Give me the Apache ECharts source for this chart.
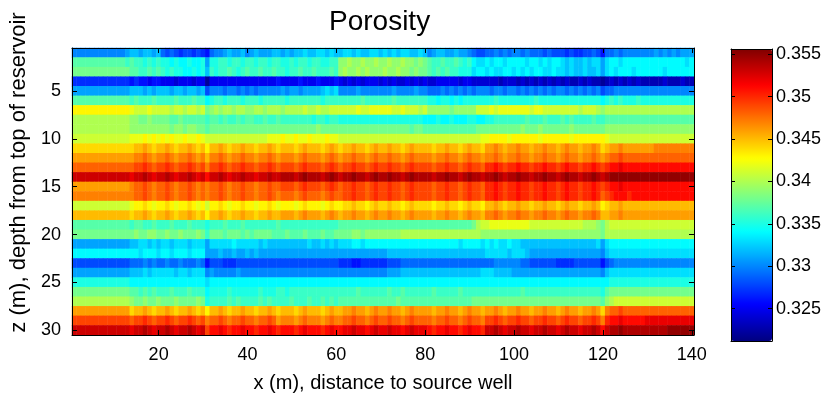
<!DOCTYPE html>
<html><head><meta charset="utf-8">
<script src="https://cdn.jsdelivr.net/npm/echarts@6/dist/echarts.min.js"></script>
<style>html,body{margin:0;padding:0;background:#fff}#c{width:827px;height:398px}</style>
</head><body><div id="c"></div>
<script>
// x categories (m) and z categories (m)
const xCategories = Array.from({length: 140}, (_, i) => i + 1);
const zCategories = Array.from({length: 30}, (_, i) => i + 1);
const xTickValues = [20, 40, 60, 80, 100, 120, 140];
const zTickValues = [5, 10, 15, 20, 25, 30];
const colorbarTicks = [0.325, 0.33, 0.335, 0.34, 0.345, 0.35, 0.355];
const colorRange = [0.3212, 0.3556];
const jetColors = ['#000080', '#0000ff', '#0080ff', '#00ffff', '#80ff80', '#ffff00', '#ff8000', '#ff0000', '#800000'];

// porosity level codes: each character is one cell, looked up in levelValues
const levelCodes = '0123456789abcdefghijklmnopqrstuvwxyz';
const levelValues = [0.321,0.322,0.323,0.324,0.325,0.326,0.327,0.328,0.329,0.330,
  0.331,0.332,0.333,0.334,0.335,0.336,0.337,0.338,0.339,0.340,
  0.341,0.342,0.343,0.344,0.345,0.346,0.347,0.348,0.349,0.350,
  0.351,0.352,0.353,0.354,0.355,0.356];

// one string per depth row z=1..30, 140 cells (x=1..140), grouped by 10
const porosityRows = [
"9999999999 99abbabbab 8787677676 5899abaab9 abaaabbaba bbcbbccbcb bccbcbbccb cbcbccbbcb 9abbaabaa9 8778898989 9898887877 7676677875 8898999999 9a9a9a9aaa",
"gggggggggg ggfgffefef eededdedde aeeffeffef feffeffeef effeffeeff iijiijiiji ijiijiihih gffgffgfef dccdcddcdd ddcddcdcdd cbcbbcbcca cddcdddddd ddddddddcd",
"hhhhhhhhhh hhhggffgfg fefeeddede bfeffgfefg ffgffgffef fgffgfffgf ijiijijiii jiijiihihh gfgfgffeee cddcdccddc dcdcddccdc cbcbbcbbca cdcdddcddd dddcdddddd",
"6666666666 6665655455 4443444344 1444444444 4444445444 4544454445 4343434443 4343343434 3344444344 3333332333 2323232323 2322323221 2323232322 2223222322",
"aaaaaaaaaa aaabbbabab bbabbabbab 7999899898 9899999a9a a9aaaabcbc 9999a99999 99a9999a99 8889898989 8999899899 8989898989 9898989897 8899999999 9999999999",
"gggggggggg gggfgfffgf fffgfffgff deffefffef ffefffffef ffffffefff fffffgffff ffgfffffff eedeededee eeeeefeeee eeeefeeeee eeeeeeeeed efefeeefee eeeeeeeeee",
"mmmmmmmmmm mmmlkkklkk kkjkkjkkjk hijijjijji ijjijjjijj jjkjjkjjkk kkkklkklll llkklkkkjk iiiiihiiii ikkklkllll lllkllkkkk kkkkjkkkji jjjjjjjjjj jjjjjjjjjj",
"jjjjjjjjjj jjjiihhihh hhgghggggg fggfgffgfg gffgffgfff ffffeffeff eeeeeeeeee eeeeeeeeed ddeddeddde eddeefffff ffgfffgfff gfgffffgff gggggggggg gggggggggg",
"jjjjjjjjjj jjjiiiiiii iihiihiihh ghhhhhhhhh hhhhhhhhhh hhhhhihhhh hhhhhhhhhh hhhhhhghhg gggggggggg ghhhhhhhhh hihhhihhhh hhihhhhhhh iiiiiiiiii iiiiiiiiii",
"kkkkkkkkkk kkklllmlml mlmllmllml kkkkkkkkkk kkkklllmll mllmlllmll kkkkkkkkkk kkkkkkkkkk kkkkkkkkkk kkllmmmmlm mmmmmlmmmm mmlmmmmmmm lkkkkkkkkk kkkkkkkkkk",
"nnnnnnnnnn nnnnoopono oponoopono mooponoopo onooponooo nopooonopo noopoonopo opoonopooo onoopoonop oonppqpopp qppoppqppo pqppoppqpn oppqpppppp pqqqqqqqqq",
"pppppppppp ppppqqrqpq qrqpqqrqpq oqqrqpqqrq qpqqrqpqqq pqrqqqpqrq pqqrqqpqrq qrqqpqrqqq qpqqrqqpqr qqpqqrqpqq rqqpqqrqqp qrqqpqqrqp qrrsrrrrrr rrrrrrrrrr",
"rrrrrrrrrr rrrrsstsrs stsrsstsrs qsstsrssts srsstsrsss rstsssrsts rsstssrsts stssrstsss srsstssrst ssrttutstt uttsttutts tuttsttuts tuuvuuuuuu uuuuuuuuuu",
"wwwwwwwwww wwwvwwxwvw wxwvwwxwvw uwwxwvwwxw wvwwxwwxxx wxyxxxwxyx wxxyxxwxyx xyxxwxyxxx xwxxyxxwxy xxwxxyxwxx yxxwxxyxxw xyxxwxxyxw xyyyyyyyyy yyyyyyyyyy",
"pppppppppp pppqrrsrqr rsrqrrsrqr qrrsrqrrsr rqrrsrrsss rstsssrsts rsstssrsts stssrstsss srsstssrst ssrttutstt uttsttutts tuttsttuts tuuvuuuuuu uuuuuuuuuu",
"qqqqqqqqqq qqqqrrsrqr rsrqrrsrqr qrrsrqrrsr rqrrsrqrrr qrsrrrqrsr rsstssrsts stssrstsss srsstssrst ssrttutstt uttsttutts tuttsttutr stuuutuuuu uuuuuuuuuu",
"kkkkkkkkkk kkklmmnmlm mnmlmmnmlm kmmnmlmmnm mlmmnmlmmm lmnmmmlmnm mnnonnmnon nonnmnonnn nmnnonnmno nnmooponoo poonoopoon opoonoopom noopoooooo oooooooooo",
"oooooooooo ooonoopono oponoopono mooponoopo onoopooppp opqpppopqp oppqppopqp pqppopqppp poppqppopq ppoqqrqpqq rqqpqqrqqp qrqqpqqrqo oppqpppppp pppppppppp",
"gggggggggg gggfggffgf ffgfffgfff efffgfffgf ffffffgfff ffffffffff gggggggggg gggggggggg gggggggggg hjkkllllll lllkkkkkkk kkkkkjjjih jkkkkkkkkk kkkkkkkkkk",
"hhhhhhhhhh hhhhihhiih hihhihhhih fhhhghhhgh ghhhhggghg gghggghggh hhhiihiiii iiiijjjjjj jjjjjjjjjj jjiiiiiiii iiiiiiiiii iiiiiiiiih jjjjjjjjjj jjjjjjjjjj",
"aaaaaaaaaa aaabbccbcb ccbcccbccc acccccdccc ccbcbbbbbb bbbcbbcbcb cccddcdddd dddddddddd dddddddcdd ddcdcdccdc cbbbbbbbbb bbbbbbbbca cddddddddd dddddddddd",
"dddddddddd dddddcdddc ddcdddcddd aaabaabaab abaaaaaaaa aaaaaaaaaa aaaaaaaaaa abbbbbbbbb bbbbbbbbbb bbbcccccbc ccbaaaaaaa aaaaaaaaa9 bccccccccc cccccccccc",
"7777777777 7778889898 8988988898 5777666777 7777777777 7777777777 6665566666 6777888888 8888888888 8888899999 9887777776 6667777775 7899999999 9999999999",
"aaaaaaaaaa aaabbbcbcc cccbccbccc 9a99999a99 9999999999 9999999999 9999999999 9aaabbbbbb bbbbbbbbbb bbcccbbbba aaaaaaaaaa aaaaaaaaa9 bccccccccc cccccccccc",
"eeeeeeeeee eeeddddddd dddddddddd cddddddddd dddddddddd dddddddddd dddddddddd dddddddddd dddddddddd dddddddddd dddddddddd dddddddddd deeeeeeeee eeeeeeeeee",
"hhhhhhhhhh hhhggfgfgf ffgfffgfff deeeefeeee eefeeeffef ffffffffff ffffgfffff fgffgfffff fgfffffgff ffffffffff fgffffffff fffffffffe ghhhhhhhhh hhhhhhhhhh",
"jjjjjjjjjj jjjihhihhi hhhihhhhih effffgfgff ffgfgffffg fffgffgfgf gggggggggg ggghgggggg gggggggggg hhhhhhhhhh hhhhhhhhhh hhhhhhhhhg ijkkkkkkkk kkkkkkkkkk",
"pppppppppp pppnoopono oponoopono mooponoopo onooponooo nopooonopo oppqppopqp pqppopqppp poppqppopq ppoppqpopp qppoppqppo pqppoppqpn qrrsrrrrrr rrrrrrrrrr",
"ssssssssss sssrsstsrs stsrsstsrs qrrsrqrrsr rqrrsrpqqq pqrqqqpqrq qrrsrrqrsr rsrrqrsrrr rqrrsrrqrs rrqsstsrss tssrsstssr stssrsstsq tuuvuuuuuv vvvvvvvvvv",
"wwwwwwwwww wwwvwwxwvw wxwvwwxwvw suuvutuuvu utuuvutuuu tuvuuutuvu uvvwvvuvwv vwvvuvwvvv utuuvuutuv uutwwxwvww xwwvwwxwwv wxwwvwwxwu wxxyxxxxxx xxxxyyyyyy"
];

const heatData = [];
porosityRows.forEach((row, r) => {
  const cells = row.replace(/ /g, '');
  for (let c = 0; c < cells.length && c < xCategories.length; c++) {
    heatData.push([c, r, levelValues[levelCodes.indexOf(cells[c])]]);
  }
});

const FONT = "'Liberation Sans', Arial, sans-serif";
const xTickShow = (i, v) => xTickValues.indexOf(Number(v)) >= 0;
const zTickShow = (i, v) => zTickValues.indexOf(Number(v)) >= 0;
const black = '#000';

const chart = echarts.init(document.getElementById('c'), null, {renderer: 'canvas'});
chart.setOption({
  animation: false,
  backgroundColor: '#fff',
  title: {
    text: 'Porosity', left: 329, top: 8, padding: 0,
    textStyle: {fontSize: 28, fontWeight: 'normal', color: black, fontFamily: FONT}
  },
  grid: [
    {left: 72, top: 48, width: 622, height: 293},
    {left: 731, top: 49, width: 41, height: 292}
  ],
  xAxis: [
    {gridIndex: 0, type: 'category', data: xCategories, position: 'bottom', boundaryGap: true, z: 10,
     name: 'x (m), distance to source well', nameLocation: 'middle', nameGap: 38,
     nameTextStyle: {fontSize: 20, color: black, fontFamily: FONT},
     axisLine: {show: true, lineStyle: {color: black, width: 1}},
     axisTick: {show: true, inside: true, length: 5, alignWithLabel: true, interval: xTickShow, lineStyle: {color: black}},
     axisLabel: {show: true, interval: xTickShow, color: black, fontSize: 18, fontFamily: FONT, margin: 11},
     splitLine: {show: false}},
    {gridIndex: 0, type: 'category', data: xCategories, position: 'top', boundaryGap: true, z: 10,
     axisLine: {show: true, lineStyle: {color: black, width: 1}},
     axisTick: {show: true, inside: true, length: 5, alignWithLabel: true, interval: xTickShow, lineStyle: {color: black}},
     axisLabel: {show: false}, splitLine: {show: false}},
    {gridIndex: 1, type: 'value', min: 0, max: 1, position: 'bottom', z: 10,
     axisLine: {show: true, onZero: false, lineStyle: {color: black}}, axisTick: {show: false}, axisLabel: {show: false}, splitLine: {show: false}},
    {gridIndex: 1, type: 'value', min: 0, max: 1, position: 'top', z: 10,
     axisLine: {show: true, onZero: false, lineStyle: {color: black}}, axisTick: {show: false}, axisLabel: {show: false}, splitLine: {show: false}}
  ],
  yAxis: [
    {gridIndex: 0, type: 'category', data: zCategories, inverse: true, position: 'left', boundaryGap: true, z: 10,
     name: 'z (m), depth from top of reservoir', nameLocation: 'middle', nameGap: 35,
     nameTextStyle: {fontSize: 22, color: black, fontFamily: FONT, padding: [0, 0, 0, 38]},
     axisLine: {show: true, lineStyle: {color: black, width: 1}},
     axisTick: {show: true, inside: true, length: 5, alignWithLabel: true, interval: zTickShow, lineStyle: {color: black}},
     axisLabel: {show: true, interval: zTickShow, color: black, fontSize: 18, fontFamily: FONT, margin: 11},
     splitLine: {show: false}},
    {gridIndex: 0, type: 'category', data: zCategories, inverse: true, position: 'right', boundaryGap: true, z: 10,
     axisLine: {show: true, lineStyle: {color: black, width: 1}},
     axisTick: {show: true, inside: true, length: 5, alignWithLabel: true, interval: zTickShow, lineStyle: {color: black}},
     axisLabel: {show: false}, splitLine: {show: false}},
    {gridIndex: 1, type: 'value', min: colorRange[0], max: colorRange[1], position: 'right', z: 10,
     axisLine: {show: true, onZero: false, lineStyle: {color: black}},
     axisTick: {show: true, inside: true, length: 4, customValues: colorbarTicks, lineStyle: {color: black}},
     axisLabel: {show: true, customValues: colorbarTicks, color: black, fontSize: 18, fontFamily: FONT, margin: 4,
                 formatter: v => String(v)},
     splitLine: {show: false}},
    {gridIndex: 1, type: 'value', min: colorRange[0], max: colorRange[1], position: 'left', z: 10,
     axisLine: {show: true, onZero: false, lineStyle: {color: black}},
     axisTick: {show: true, inside: true, length: 4, customValues: colorbarTicks, lineStyle: {color: black}},
     axisLabel: {show: false}, splitLine: {show: false}}
  ],
  visualMap: {
    type: 'continuous', seriesIndex: 0, min: colorRange[0], max: colorRange[1],
    show: true, left: 731, top: 49, itemWidth: 41, itemHeight: 292, padding: 0,
    calculable: false, hoverLink: false, text: null, showLabel: false,
    inRange: {color: jetColors}
  },
  series: [{
    type: 'heatmap', xAxisIndex: 0, yAxisIndex: 0, data: heatData,
    progressive: 0, emphasis: {disabled: true}, itemStyle: {borderWidth: 0}
  }]
});
</script></body></html>
